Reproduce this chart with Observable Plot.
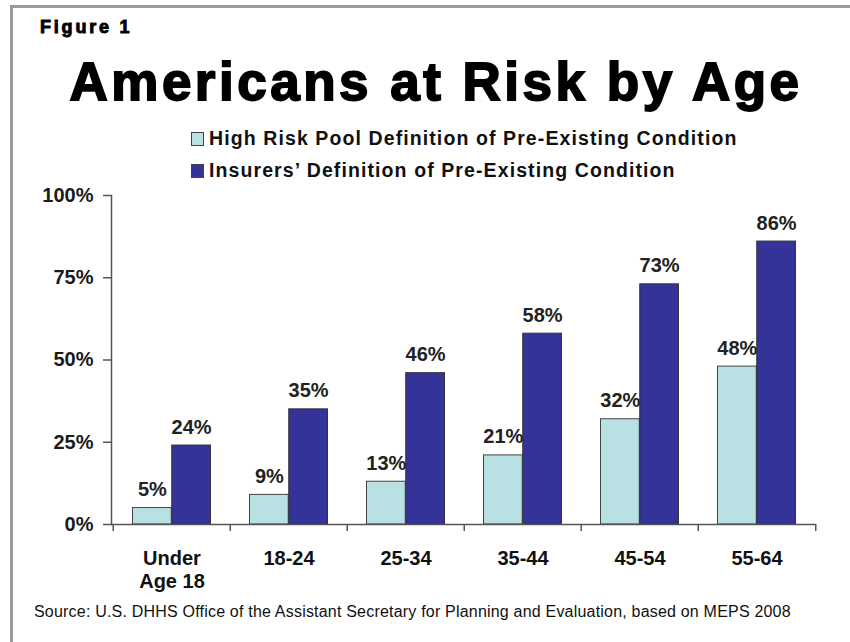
<!DOCTYPE html>
<html>
<head>
<meta charset="utf-8">
<script src="https://cdn.jsdelivr.net/npm/d3@7"></script>
<script src="https://cdn.jsdelivr.net/npm/@observablehq/plot@0.6"></script>
<style>
  html, body { margin: 0; padding: 0; background: #fff; }
  #wrap { position: relative; width: 850px; height: 642px; overflow: hidden; font-family: "Liberation Sans", Arial, sans-serif; color: #000; }
  #frame { position: absolute; left: 10px; top: 5px; width: 900px; height: 700px; border-left: 3px solid #9a9a9a; border-top: 3px solid #9a9a9a; box-sizing: border-box; }
  #fig { position: absolute; left: 40px; top: 18px; font-size: 18px; line-height: 18px; font-weight: bold; letter-spacing: 2.8px; -webkit-text-stroke: 0.9px #000; }
  #title { position: absolute; left: 0; width: 872px; text-align: center; top: 55px; font-size: 53px; line-height: 53px; font-weight: bold; letter-spacing: 3.5px; -webkit-text-stroke: 1.8px #000; }
  .leg { position: absolute; left: 191px; font-size: 19.5px; line-height: 20px; font-weight: bold; color: #111; white-space: nowrap; letter-spacing: 1.1px; }
  .sw { display: inline-block; width: 11px; height: 12px; border: 1px solid #444; vertical-align: -1px; margin-right: 5px; }
  #chart { position: absolute; left: 0; top: 185px; }
  #cap { position: absolute; left: 34px; top: 604px; font-size: 16px; line-height: 16px; color: #111; white-space: nowrap; letter-spacing: 0.2px; }
</style>
</head>
<body>
<div id="wrap">
  <div id="frame"></div>
  <div id="fig">Figure 1</div>
  <div id="title">Americans at Risk by Age</div>
  <div id="leg"></div>
  <div id="chart"></div>
  <div id="cap">Source: U.S. DHHS Office of the Assistant Secretary for Planning and Evaluation, based on MEPS 2008</div>
</div>
<script>
const ages = ["Under Age 18", "18-24", "25-34", "35-44", "45-54", "55-64"];
const ageLabels = ["Under\nAge 18", "18-24", "25-34", "35-44", "45-54", "55-64"];
const seriesNames = ["High Risk Pool Definition of Pre-Existing Condition", "Insurers\u2019 Definition of Pre-Existing Condition"];
const seriesColors = ["#b9e1e4", "#333399"];
const highRisk = [5, 9, 13, 21, 32, 48];
const insurers = [24, 35, 46, 58, 73, 86];
const yTicks = [0, 25, 50, 75, 100];

// legend
const leg = document.getElementById("leg");
seriesNames.forEach((name, i) => {
  const row = document.createElement("div");
  row.className = "leg";
  row.style.top = (128 + i * 32) + "px";
  const sw = document.createElement("span");
  sw.className = "sw";
  sw.style.background = seriesColors[i];
  row.appendChild(sw);
  row.appendChild(document.createTextNode(name));
  leg.appendChild(row);
});

const W = 850, H = 420, mL = 111, mR = 34, mT = 10, mB = 81;
const step = (W - mL - mR) / ages.length;
const barW = step * 0.334;
const pad = (step - 2 * barW) / 2;

const hr = ages.map((a, i) => ({age: a, value: highRisk[i]}));
const ins = ages.map((a, i) => ({age: a, value: insurers[i]}));
const labelOf = new Map(ages.map((a, i) => [a, ageLabels[i]]));

const plot = Plot.plot({
  width: W, height: H,
  marginLeft: mL, marginRight: mR, marginTop: mT, marginBottom: mB,
  style: {fontFamily: "Liberation Sans, Arial, sans-serif", background: "transparent", color: "#111", overflow: "visible"},
  x: {domain: ages, padding: 0, axis: null, label: null},
  y: {domain: [0, 100], axis: null, label: null},
  marks: [
    Plot.barY(hr, {x: "age", y: "value", fill: seriesColors[0], stroke: "#444", strokeWidth: 1, insetLeft: pad, insetRight: pad + barW}),
    Plot.barY(ins, {x: "age", y: "value", fill: seriesColors[1], stroke: "#333", strokeWidth: 1, insetLeft: pad + barW, insetRight: pad}),
    Plot.text(hr, {x: "age", y: "value", text: d => d.value + "%", dx: -barW / 2, dy: -12, lineAnchor: "bottom", fontSize: 20, fontWeight: "bold", fill: "#222"}),
    Plot.text(ins, {x: "age", y: "value", text: d => d.value + "%", dx: barW / 2, dy: -12, lineAnchor: "bottom", fontSize: 20, fontWeight: "bold", fill: "#222"}),
    Plot.frame({anchor: "left", stroke: "#555", strokeWidth: 1.5}),
    Plot.ruleY([0], {stroke: "#555", strokeWidth: 1.5}),
    Plot.axisY({ticks: yTicks, tickSize: 8, tickPadding: 10, tickFormat: d => d + "%", fontSize: 20, fontWeight: "bold", stroke: "#555", strokeWidth: 1.5, fill: "#1a1a1a", label: null}),
    Plot.axisX({tickSize: 7, dx: -step / 2, tickFormat: () => "", stroke: "#555", strokeWidth: 1.5, label: null}),
    Plot.axisX({ticks: [ages[ages.length - 1]], tickSize: 7, dx: step / 2, tickFormat: () => "", stroke: "#555", strokeWidth: 1.5, label: null}),
    Plot.axisX({tickSize: 0, tickPadding: 24, tickFormat: d => labelOf.get(d), fontSize: 20, fontWeight: "bold", lineHeight: 1.15, lineAnchor: "top", fill: "#111", label: null})
  ]
});
document.getElementById("chart").appendChild(plot);
</script>
</body>
</html>
